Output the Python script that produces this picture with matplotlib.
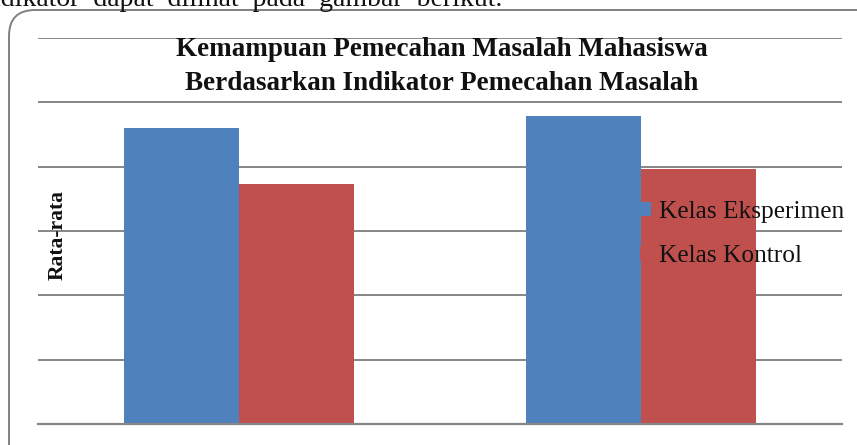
import matplotlib
matplotlib.use("Agg")
import matplotlib.pyplot as plt
from matplotlib.patches import FancyBboxPatch, Patch
from matplotlib.transforms import IdentityTransform
import numpy as np

categories = ["Indikator 1", "Indikator 2"]
series_names = ["Kelas Eksperimen", "Kelas Kontrol"]
eksperimen = [4.60, 4.79]
kontrol = [3.73, 3.97]
colors = ["#4F81BD", "#C0504D"]
title_lines = ["Kemampuan Pemecahan Masalah Mahasiswa",
               "Berdasarkan Indikator Pemecahan Masalah"]
ylabel = "Rata-rata"
top_text = "indikator  dapat  dilihat  pada  gambar  berikut."

W, H = 857, 445
fig = plt.figure(figsize=(W / 100, H / 100), dpi=100)
serif = ["Liberation Serif", "DejaVu Serif"]

def px(x, y):
    return x / W, 1 - y / H

# rounded frame (pixel coords from bottom-left)
frame = FancyBboxPatch((9, -30), 880, 445 - 10 + 30,
                       boxstyle="round,pad=0,rounding_size=26",
                       transform=IdentityTransform(), fill=False,
                       edgecolor="#808080", linewidth=1.4)
fig.patches.append(frame)

l, r, t, b = 38, 842, 38, 424
ax = fig.add_axes([l / W, (H - b) / H, (r - l) / W, (b - t) / H])
ax.set_xlim(-0.5, len(categories) - 0.5)
ax.set_ylim(0, 6)
ax.set_yticks(np.arange(0, 7, 1))
ax.grid(axis="y", color="#868686", linewidth=1.4)
ax.set_axisbelow(True)
ax.tick_params(left=False, bottom=False, labelleft=False, labelbottom=False)
for s in ["left", "right", "top"]:
    ax.spines[s].set_visible(False)
ax.spines["bottom"].set_color("#868686")
ax.spines["bottom"].set_linewidth(1.6)

x = np.arange(len(categories))
w = 1 / 3.5
ax.bar(x - w / 2, eksperimen, w, color=colors[0], edgecolor="none")
ax.bar(x + w / 2, kontrol, w, color=colors[1], edgecolor="none")

# title
cx = 442
fig.text(*px(cx, 49), title_lines[0], ha="center", va="center",
         family=serif, fontweight="bold", fontsize=19.5, color="#111111")
fig.text(*px(cx, 84), title_lines[1], ha="center", va="center",
         family=serif, fontweight="bold", fontsize=19.5, color="#111111")

# y label
fig.text(*px(58, 235), ylabel, ha="center", va="center", rotation=90,
         family=serif, fontweight="bold", fontsize=15.5, color="#111111")

# legend
handles = [Patch(facecolor=c, edgecolor="none") for c in colors]
leg = fig.legend(handles, series_names, loc="upper left",
                 bbox_to_anchor=px(640, 201), frameon=False,
                 prop={"family": serif, "size": 18.3},
                 handlelength=0.45, handleheight=0.45, handletextpad=0.28,
                 labelspacing=0.86, borderpad=0, borderaxespad=0)
for tx in leg.get_texts():
    tx.set_color("#111111")

# cropped text above the chart
fig.text(*px(502, 6), top_text, ha="right", va="baseline",
         family=serif, fontsize=20, color="#111111")

fig.savefig("out.png", dpi=100)
